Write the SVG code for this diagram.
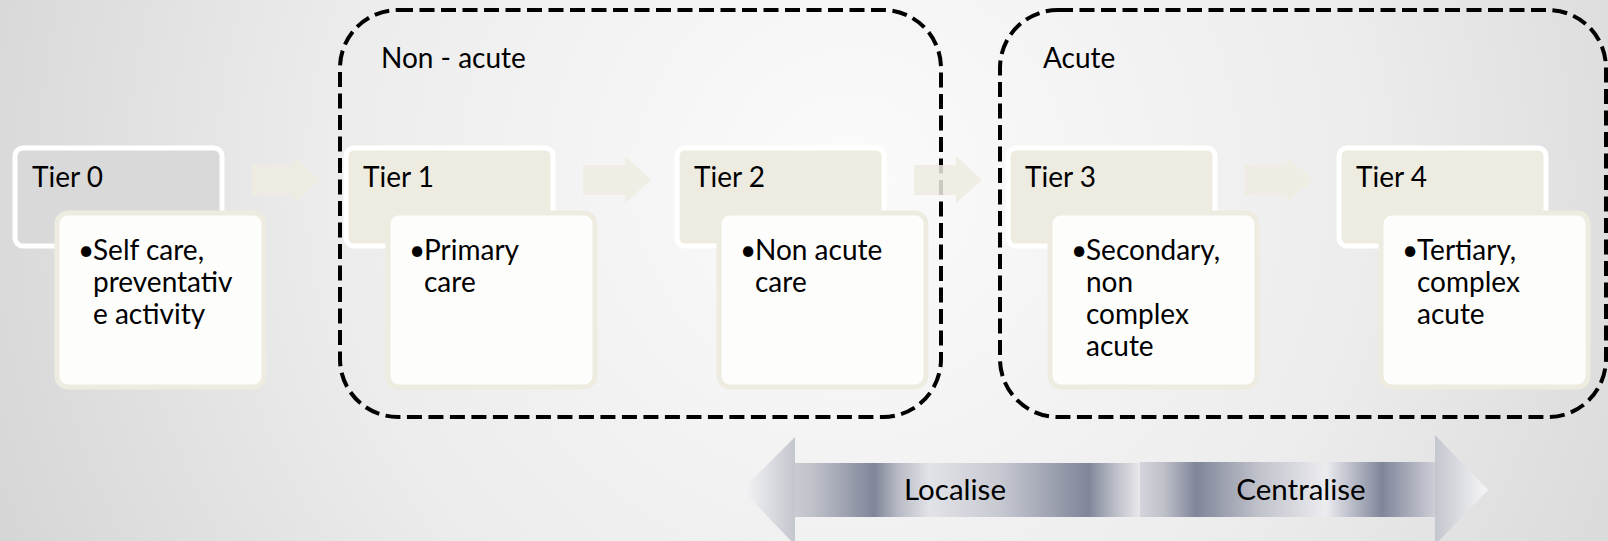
<svg xmlns="http://www.w3.org/2000/svg" width="1608" height="541" viewBox="0 0 1608 541">
<defs>
<radialGradient id="bg" gradientUnits="userSpaceOnUse" cx="850" cy="180" r="950">
<stop offset="0" stop-color="#fbfbfb"/>
<stop offset="0.55" stop-color="#ececec"/>
<stop offset="1" stop-color="#d4d4d4"/>
</radialGradient>
<linearGradient id="metL" gradientUnits="userSpaceOnUse" x1="795" y1="0" x2="1140" y2="0">
<stop offset="0" stop-color="#c9cad2"/>
<stop offset="0.05" stop-color="#c0c2ca"/>
<stop offset="0.23" stop-color="#80869a"/>
<stop offset="0.30" stop-color="#b8bbc5"/>
<stop offset="0.39" stop-color="#e2e3e8"/>
<stop offset="0.59" stop-color="#c8cad2"/>
<stop offset="0.85" stop-color="#80869a"/>
<stop offset="0.94" stop-color="#c4c6ce"/>
<stop offset="1" stop-color="#e8e8ec"/>
</linearGradient>
<linearGradient id="metR" gradientUnits="userSpaceOnUse" x1="1140" y1="0" x2="1435" y2="0">
<stop offset="0" stop-color="#d4d5dc"/>
<stop offset="0.08" stop-color="#bfc1c9"/>
<stop offset="0.19" stop-color="#80869a"/>
<stop offset="0.41" stop-color="#c2c4cc"/>
<stop offset="0.63" stop-color="#ececf0"/>
<stop offset="0.82" stop-color="#80869a"/>
<stop offset="1" stop-color="#cdced6"/>
</linearGradient>
<linearGradient id="headL" gradientUnits="userSpaceOnUse" x1="795" y1="0" x2="742" y2="0">
<stop offset="0" stop-color="#c4c6ce"/>
<stop offset="1" stop-color="#f6f6f8"/>
</linearGradient>
<linearGradient id="headR" gradientUnits="userSpaceOnUse" x1="1435" y1="0" x2="1488" y2="0">
<stop offset="0" stop-color="#c4c6ce"/>
<stop offset="1" stop-color="#f6f6f8"/>
</linearGradient>
</defs>
<style>
text{font-family:Lato,"Liberation Sans",sans-serif;font-size:28px;fill:#000}
.big{font-size:29.5px}
.hdr{fill:#eeece1;stroke:#ffffff;stroke-width:5}
.hdr0{fill:#d9d9d9;stroke:#ffffff;stroke-width:5}
.det{fill:#fdfdfc;stroke:#eeece1;stroke-width:5}
.arr{fill:#eeece1;opacity:0.85}
.grp{fill:none;stroke:#000;stroke-width:4;stroke-dasharray:15 6.5}
</style>
<rect x="0" y="0" width="1608" height="541" fill="url(#bg)"/>

<g id="group-nonacute">
<rect class="grp" x="340" y="10" width="601" height="407" rx="58" ry="58"/>
<text x="381" y="68">Non - acute</text>
</g>
<g id="group-acute">
<rect class="grp" x="1000" y="10" width="606" height="407" rx="58" ry="58"/>
<text x="1043" y="68">Acute</text>
</g>

<g id="connectors">
<polygon class="arr" points="252,165 294,165 294,156 320,180 294,203 294,195 252,195"/>
<polygon class="arr" points="583,165 625,165 625,156 651,180 625,203 625,195 583,195"/>
<polygon class="arr" points="914,165 956,165 956,156 982,180 956,203 956,195 914,195"/>
<polygon class="arr" points="1245,165 1287,165 1287,156 1313,180 1287,203 1287,195 1245,195"/>
</g>

<g id="tier0">
<rect class="hdr0" x="15" y="148" width="207" height="98" rx="8"/>
<text x="32" y="187">Tier 0</text>
<rect class="det" x="57" y="213" width="207" height="174" rx="11"/>
<text><tspan x="78" y="260">•</tspan><tspan x="93" y="260">Self care,</tspan><tspan x="93" y="292">preventativ</tspan><tspan x="93" y="324">e activity</tspan></text>
</g>
<g id="tier1">
<rect class="hdr" x="346" y="148" width="207" height="98" rx="8"/>
<text x="363" y="187">Tier 1</text>
<rect class="det" x="388" y="213" width="207" height="174" rx="11"/>
<text><tspan x="409" y="260">•</tspan><tspan x="424" y="260">Primary</tspan><tspan x="424" y="292">care</tspan></text>
</g>
<g id="tier2">
<rect class="hdr" x="677" y="148" width="207" height="98" rx="8"/>
<text x="694" y="187">Tier 2</text>
<rect class="det" x="719" y="213" width="207" height="174" rx="11"/>
<text><tspan x="740" y="260">•</tspan><tspan x="755" y="260">Non acute</tspan><tspan x="755" y="292">care</tspan></text>
</g>
<g id="tier3">
<rect class="hdr" x="1008" y="148" width="207" height="98" rx="8"/>
<text x="1025" y="187">Tier 3</text>
<rect class="det" x="1050" y="213" width="207" height="174" rx="11"/>
<text><tspan x="1071" y="260">•</tspan><tspan x="1086" y="260">Secondary,</tspan><tspan x="1086" y="292">non</tspan><tspan x="1086" y="324">complex</tspan><tspan x="1086" y="356">acute</tspan></text>
</g>
<g id="tier4">
<rect class="hdr" x="1339" y="148" width="207" height="98" rx="8"/>
<text x="1356" y="187">Tier 4</text>
<rect class="det" x="1381" y="213" width="207" height="174" rx="11"/>
<text><tspan x="1402" y="260">•</tspan><tspan x="1417" y="260">Tertiary,</tspan><tspan x="1417" y="292">complex</tspan><tspan x="1417" y="324">acute</tspan></text>
</g>

<g id="double-arrow">
<polygon points="795,437 795,545 742,490" fill="url(#headL)"/>
<rect x="795" y="463" width="345" height="54" fill="url(#metL)"/>
<rect x="1140" y="462" width="295" height="55" fill="url(#metR)"/>
<polygon points="1435,435 1435,545 1488,490" fill="url(#headR)"/>
<text class="big" x="955" y="500" text-anchor="middle">Localise</text>
<text class="big" x="1301" y="500" text-anchor="middle">Centralise</text>
</g>
</svg>
